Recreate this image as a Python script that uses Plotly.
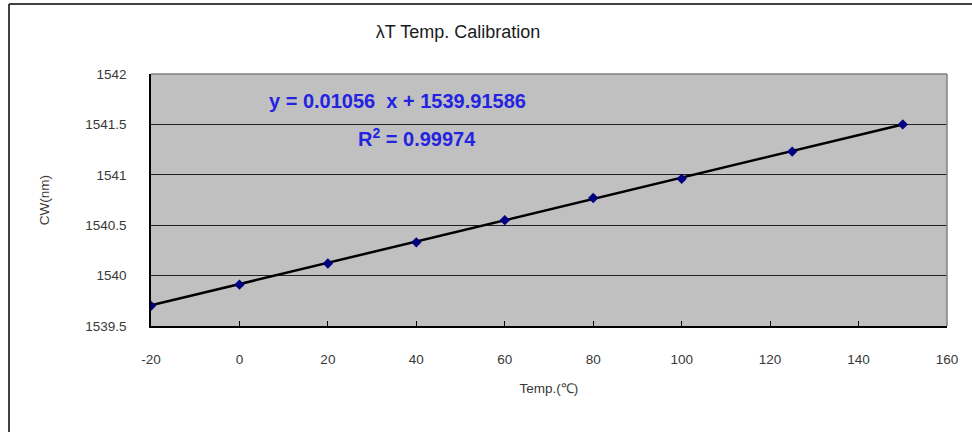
import plotly.graph_objects as go
import numpy as np

temps = [-20, 0, 20, 40, 60, 80, 100, 125, 150]
cw = [1539.70, 1539.91, 1540.12, 1540.33, 1540.55, 1540.77, 1540.96, 1541.23, 1541.50]
slope = 0.01056
intercept = 1539.91586
r2 = 0.99974
x_ticks = [-20, 0, 20, 40, 60, 80, 100, 120, 140, 160]
x_ticktext = ["-20", "0", "20", "40", "60", "80", "100", "120", "140", "160"]
y_ticks = [1539.5, 1540, 1540.5, 1541, 1541.5, 1542]
y_ticktext = ["1539.5", "1540", "1540.5", "1541", "1541.5", "1542"]

W, H = 972, 432
L, R, T, B = 151, 25, 74, 106
pw, ph = W - L - R, H - T - B

def px_to_paper_x(px):
    return (px - L) / pw

def px_to_paper_y(py):
    return 1 - (py - T) / ph

font_family = "Arial, Liberation Sans, sans-serif"

fit_x = np.array([min(temps), max(temps)], dtype=float)
fit_y = slope * fit_x + intercept

fig = go.Figure()
fig.add_trace(go.Scatter(x=fit_x, y=fit_y, mode="lines",
                         line=dict(color="black", width=2.5), showlegend=False, hoverinfo="skip"))
fig.add_trace(go.Scatter(x=temps, y=cw, mode="markers",
                         marker=dict(symbol="diamond", color="#000080", size=8),
                         showlegend=False))

fig.update_layout(
    width=W, height=H,
    margin=dict(l=L, r=R, t=T, b=B),
    paper_bgcolor="white",
    plot_bgcolor="#C0C0C0",
    font=dict(family=font_family, color="#383838", size=13.5),
    title=dict(text="λT Temp. Calibration", x=px_to_paper_x(458), xref="paper", xanchor="center",
               y=1 - 32 / H, yanchor="middle", font=dict(size=18, color="#1a1a1a")),
    xaxis=dict(range=[-20, 160], tickvals=x_ticks, ticktext=x_ticktext, showgrid=False, zeroline=False,
               showline=True, linecolor="black", linewidth=1.5, mirror=False,
               ticks="inside", ticklen=5, tickcolor="black", ticklabelstandoff=20,
               title=dict(text="Temp.(℃)", font=dict(size=13.5, color="#383838"), standoff=18)),
    yaxis=dict(range=[1539.5, 1542], tickvals=y_ticks, ticktext=y_ticktext,
               showgrid=True, gridcolor="#202020", gridwidth=1, zeroline=False,
               showline=True, linecolor="black", linewidth=1.5,
               ticks="", ticklabelstandoff=20,
               title=dict(text="CW(nm)", font=dict(size=13.5, color="#383838"), standoff=33)),
    shapes=[
        dict(type="line", xref="paper", yref="paper", x0=1, x1=1, y0=0, y1=1,
             line=dict(color="#808080", width=1.5)),
        dict(type="line", xref="paper", yref="paper", x0=0, x1=1, y0=1, y1=1,
             line=dict(color="#808080", width=1.5)),
        dict(type="line", xref="paper", yref="paper",
             x0=px_to_paper_x(9), x1=px_to_paper_x(9), y0=px_to_paper_y(4), y1=px_to_paper_y(440),
             line=dict(color="#404040", width=2)),
        dict(type="line", xref="paper", yref="paper",
             x0=px_to_paper_x(9), x1=px_to_paper_x(980), y0=px_to_paper_y(4), y1=px_to_paper_y(4),
             line=dict(color="#404040", width=2)),
    ],
    annotations=[
        dict(text=f"<b>y = {slope}  x + {intercept}</b>", x=px_to_paper_x(397), y=px_to_paper_y(101),
             xref="paper", yref="paper", showarrow=False, xanchor="center", yanchor="middle",
             font=dict(size=20, color="#2323E0", family=font_family)),
        dict(text=f"<b>R<sup>2</sup> = {r2}</b>", x=px_to_paper_x(417), y=px_to_paper_y(137),
             xref="paper", yref="paper", showarrow=False, xanchor="center", yanchor="middle",
             font=dict(size=20, color="#2323E0", family=font_family)),
    ],
)

fig.write_html("out.html", config={"displayModeBar": False},
               post_script="document.body.style.margin='0';document.body.style.overflow='hidden';")
